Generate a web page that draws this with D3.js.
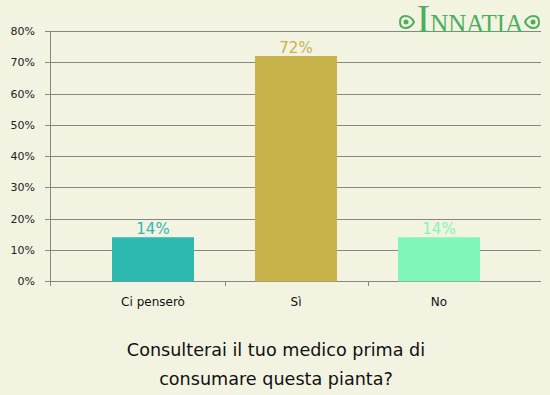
<!DOCTYPE html>
<html>
<head>
<meta charset="utf-8">
<script src="https://cdn.jsdelivr.net/npm/d3@7"></script>
<style>
  body { margin: 0; background: #f3f3e2; }
  svg { display: block; font-family: "DejaVu Sans", Verdana, sans-serif; }
</style>
</head>
<body>
<svg id="chart" width="550" height="395"></svg>
<script>
const categories = ["Ci penserò", "Sì", "No"];
const values = [14, 72, 14];
const barColors = ["#2db8b0", "#c8b24a", "#80f7b8"];
const yTicks = [0, 10, 20, 30, 40, 50, 60, 70, 80];
const titleLines = ["Consulterai il tuo medico prima di", "consumare questa pianta?"];

const svg = d3.select("#chart");
const width = +svg.attr("width");
const height = +svg.attr("height");

svg.append("rect").attr("width", width).attr("height", height).attr("fill", "#f3f3e2");

const plotLeft = 50, plotRight = 541, plotTop = 31, plotBottom = 281;

const xScale = d3.scaleBand().domain(categories).range([81.5, 510.5]);
const yScale = d3.scaleLinear().domain([0, 80]).range([plotBottom, plotTop]);
const barW = 82;

// grid lines
svg.append("g")
  .selectAll("line")
  .data(yTicks)
  .join("line")
  .attr("x1", plotLeft - 5)
  .attr("x2", plotRight)
  .attr("y1", d => Math.round(yScale(d)) + 0.5)
  .attr("y2", d => Math.round(yScale(d)) + 0.5)
  .attr("stroke", "#878787")
  .attr("stroke-width", 1);

// y axis line
svg.append("line")
  .attr("x1", plotLeft + 0.5).attr("x2", plotLeft + 0.5)
  .attr("y1", plotTop).attr("y2", plotBottom + 5)
  .attr("stroke", "#878787");

// y labels
svg.append("g")
  .selectAll("text")
  .data(yTicks)
  .join("text")
  .attr("x", 35)
  .attr("y", d => yScale(d) + 4)
  .attr("text-anchor", "end")
  .attr("font-size", 11)
  .attr("fill", "#222")
  .text(d => d + "%");

// x ticks between categories
svg.append("g")
  .selectAll("line")
  .data(categories.slice(1))
  .join("line")
  .attr("x1", d => Math.round(xScale(d)) + 0.5)
  .attr("x2", d => Math.round(xScale(d)) + 0.5)
  .attr("y1", plotBottom)
  .attr("y2", plotBottom + 5)
  .attr("stroke", "#878787");

// bars
svg.append("g")
  .selectAll("rect")
  .data(categories)
  .join("rect")
  .attr("x", d => xScale(d) + xScale.bandwidth() / 2 - barW / 2)
  .attr("width", barW)
  .attr("y", (d, i) => yScale(values[i]))
  .attr("height", (d, i) => plotBottom - yScale(values[i]) + 0.5)
  .attr("fill", (d, i) => barColors[i]);

// value labels
svg.append("g")
  .selectAll("text")
  .data(categories)
  .join("text")
  .attr("x", d => xScale(d) + xScale.bandwidth() / 2)
  .attr("y", (d, i) => yScale(values[i]) - 3)
  .attr("text-anchor", "middle")
  .attr("font-size", 15)
  .attr("fill", (d, i) => barColors[i])
  .text((d, i) => values[i] + "%");

// category labels
svg.append("g")
  .selectAll("text")
  .data(categories)
  .join("text")
  .attr("x", d => xScale(d) + xScale.bandwidth() / 2)
  .attr("y", 306)
  .attr("text-anchor", "middle")
  .attr("font-size", 12)
  .attr("fill", "#111")
  .text(d => d);

// title
svg.append("g")
  .selectAll("text")
  .data(titleLines)
  .join("text")
  .attr("x", 276)
  .attr("y", (d, i) => 356 + i * 29)
  .attr("text-anchor", "middle")
  .attr("font-size", 17.6)
  .attr("fill", "#111")
  .text(d => d);

// logo
const logo = svg.append("g").attr("fill", "#4caf5c");
logo.append("text")
  .attr("x", 470).attr("y", 32)
  .attr("text-anchor", "middle")
  .attr("font-family", "'Liberation Serif', serif")
  .html('<tspan font-size="40">I</tspan><tspan font-size="25">NNATIA</tspan>');
const heart = "M0,0 C-4,-8 -14,-8 -14,0 C-14,8 -4,8 0,0 Z";
[[414, 22, 1], [525, 22, -1]].forEach(([cx, cy, s]) => {
  const g = logo.append("g").attr("transform", `translate(${cx},${cy}) scale(${s},1)`);
  g.append("path").attr("d", heart).attr("fill", "none").attr("stroke", "#4caf5c").attr("stroke-width", 2);
  g.append("circle").attr("cx", -8).attr("cy", 0).attr("r", 2.5).attr("fill", "#4caf5c");
});
</script>
</body>
</html>
